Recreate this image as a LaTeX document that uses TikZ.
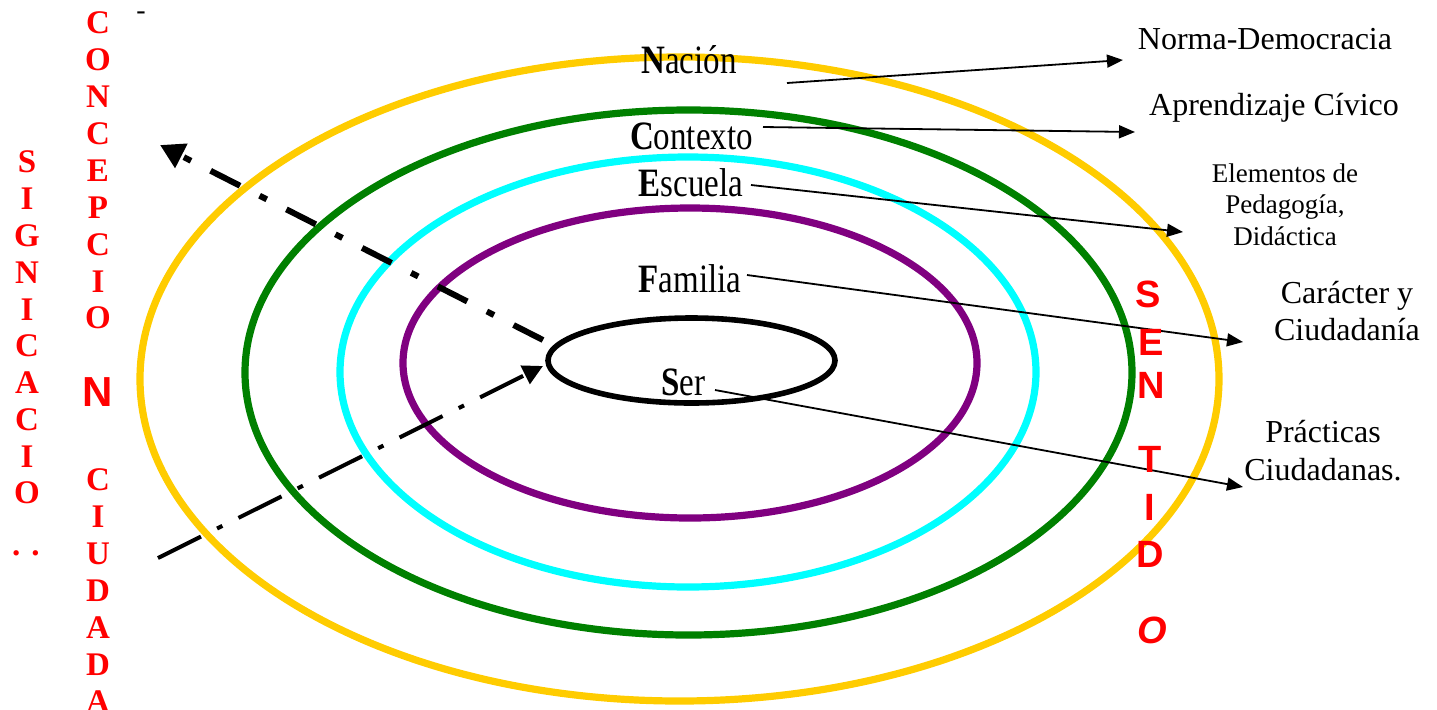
\documentclass[tikz,border=0pt]{standalone}
\usepackage{graphicx}
\usepackage{fontspec}
\setmainfont{Liberation Serif}
\newfontfamily\arialf{Liberation Sans}
\usetikzlibrary{arrows.meta}
\definecolor{ringgold}{HTML}{FFCC00}
\definecolor{ringgreen}{HTML}{008000}
\definecolor{ringcyan}{HTML}{00FFFF}
\definecolor{ringpurple}{HTML}{800080}
\definecolor{redtxt}{HTML}{FF0000}
\newcommand\tallbox[1]{\scalebox{1}[1.22]{#1}}
\begin{document}
\begin{tikzpicture}[x=0.5pt,y=-0.5pt,
  ring/.style={line width=3.6pt},
  lbl/.style={font=\fontsize{16.5}{19}\selectfont, inner sep=0pt, anchor=base},
  note/.style={font=\fontsize{16}{19}\selectfont, inner sep=0pt, anchor=base},
  smallnote/.style={font=\fontsize{13.5}{16}\selectfont, inner sep=0pt, anchor=base},
  pointer/.style={line width=0.9pt, -{Triangle[length=8pt,width=6.5pt]}},
  redser/.style={text=redtxt, font=\fontsize{16.5}{19}\selectfont\bfseries, inner sep=0pt},
  redsans/.style={text=redtxt, font=\arialf\fontsize{19}{22}\selectfont\bfseries, inner sep=0pt},
]
\useasboundingbox (0,0) rectangle (1437,709);

% rings
\draw[ring, ringgold]   (679.5,379)   ellipse [x radius=269.75pt, y radius=161pt];
\draw[ring, ringgreen]  (688.5,372.5) ellipse [x radius=221.75pt, y radius=131.25pt];
\draw[ring, ringcyan]   (688,372)     ellipse [x radius=174pt, y radius=107.5pt];
\draw[ring, ringpurple] (690,363)     ellipse [x radius=143.5pt, y radius=77.5pt];
\draw[line width=2.8pt, black] (691.5,360.5) ellipse [x radius=71.75pt, y radius=21.25pt];

% ring labels
\node[lbl] (nacion)   at (689,73)    {\tallbox{\textbf{N}ación}};
\node[lbl] (contexto) at (691.5,149) {\tallbox{\textbf{C}ontexto}};
\node[lbl] (escuela)  at (691,196)   {\tallbox{\textbf{E}scuela}};
\node[lbl] (familia)  at (690,292)   {\tallbox{\textbf{F}amilia}};
\node[lbl] (ser)      at (683,395)   {\tallbox{\textbf{S}er}};

% right labels
\node[note] (norma)  at (1265,49)  {Norma-Democracia};
\node[note] (aprend) at (1274,115) {Aprendizaje Cívico};
\node[smallnote] (elem1) at (1285,182) {Elementos de};
\node[smallnote] (elem2) at (1285,213) {Pedagogía,};
\node[smallnote] (elem3) at (1285,245) {Didáctica};
\node[note] (car1)  at (1347,303) {Carácter y};
\node[note] (car2)  at (1347,340) {Ciudadanía};
\node[note] (prac1) at (1323,442) {Prácticas};
\node[note] (prac2) at (1323,480) {Ciudadanas.};

% pointer coordinates
\coordinate (nacionOut)   at (787,83);
\coordinate (normaIn)     at (1123,60);
\coordinate (contextoOut) at (763,127);
\coordinate (aprendIn)    at (1135,132);
\coordinate (escuelaOut)  at (751,185);
\coordinate (elemIn)      at (1183,232);
\coordinate (familiaOut)  at (747,275);
\coordinate (carIn)       at (1243,342);
\coordinate (serOut)      at (715,390);
\coordinate (pracIn)      at (1243,487);

\draw[pointer] (nacionOut) -- (normaIn);
\draw[pointer] (contextoOut) -- (aprendIn);
\draw[pointer] (escuelaOut) -- (elemIn);
\draw[pointer] (familiaOut) -- (carIn);
\draw[pointer] (serOut) -- (pracIn);

% dash-dot arrows
\coordinate (upStart)  at (543,340);
\coordinate (upTip)    at (160,145);
\coordinate (lowStart) at (158,558);
\coordinate (lowTip)   at (543,366);
\draw[line width=3pt, dash pattern=on 16.5pt off 11pt on 4pt off 11pt,
      -{Triangle[length=12pt,width=13pt]}] (upStart) -- (upTip);
\draw[line width=2pt, dash pattern=on 24pt off 9pt on 3pt off 9pt,
      -{Triangle[length=10pt,width=10pt]}] (lowStart) -- (lowTip);

% top tick
\node[font=\fontsize{14}{16}\selectfont, inner sep=0pt] (tick) at (141,16) {-};

% left vertical words
\foreach \ch [count=\i from 0] in {S,I,G,N,I,C,A,C,I,O}
  \node[redser] (sig\i) at (27,162+36.8*\i) {\ch};
\node[redser] (sigdots) at (26,553) {. .};

\foreach \ch [count=\i from 0] in {C,O,N,C,E,P,C,I,O}
  \node[redser] (con\i) at (98,23+36.9*\i) {\ch};
\node[redsans, font=\arialf\fontsize{21}{24}\selectfont\bfseries] (conN) at (98,392) {N};
\foreach \ch [count=\i from 0] in {C,I,U,D,A,D,A}
  \node[redser] (ciu\i) at (98,480+37*\i) {\ch};

% SENTIDO
\node[redsans] (senS) at (1148,294) {S};
\node[redsans] (senE) at (1151,342) {E};
\node[redsans] (senN) at (1151,385) {N};
\node[redsans] (senT) at (1150,459) {T};
\node[redsans] (senI) at (1150,507) {I};
\node[redsans] (senD) at (1150,554) {D};
\node[redsans] (senO) at (1152,630) {\itshape O};
\end{tikzpicture}
\end{document}
